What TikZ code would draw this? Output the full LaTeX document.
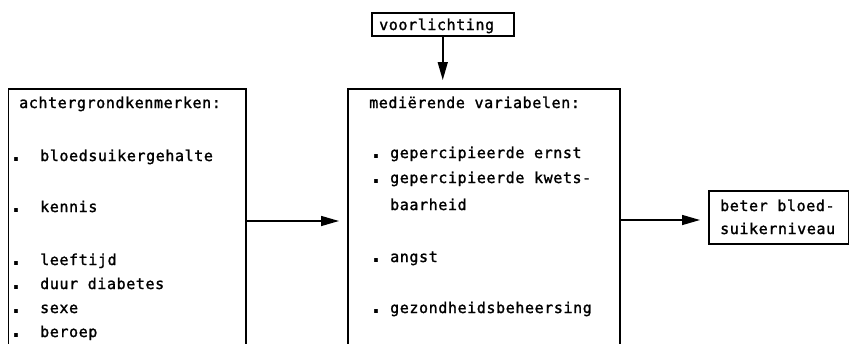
\documentclass[tikz,border=0pt]{standalone}
\usepackage{fontspec}
\newfontfamily\tw[LetterSpace=4,FakeBold=1.5]{DejaVu Sans Mono}
\newfontfamily\dotfont{DejaVu Sans}
\usetikzlibrary{arrows.meta}
\newcommand{\bdot}{\hspace{3pt}\makebox[9pt][c]{\dotfont\bfseries\fontsize{21}{21}\selectfont .}\hspace{-3pt}}
\newcommand{\bulA}{\bdot\hspace{22.5pt}}
\newcommand{\bulB}{\bdot\hspace{12.5pt}}
\tikzset{
  box/.style={draw, line width=1.5pt, inner sep=0pt, anchor=north west},
  txt/.style={inner sep=0pt, anchor=base west, font=\tw\fontsize{15}{18}\selectfont},
  arr/.style={line width=1.5pt, -{Triangle[length=18pt,width=10pt]}, shorten >=8pt}
}
\begin{document}
\begin{tikzpicture}[x=1pt,y=-1pt]
\useasboundingbox (0,0) rectangle (849,343);
\clip (0,0) rectangle (849,343);
% boxes
\node[box, minimum width=237.5pt, minimum height=300pt] (bg) at (7.5,88) {};
\node[box, minimum width=272pt, minimum height=300pt] (med) at (347,88) {};
\node[box, minimum width=140pt, minimum height=53pt] (out) at (708,190) {};
\node[box, minimum width=142pt, minimum height=23pt] (vl) at (371,12) {};
% texts
\node[txt] (vlt) at (379,30) {voorlichting};
\node[txt] (h1) at (19,108) {achtergrondkenmerken:};
\node[txt] (a1) at (8.5,161) {\bulA bloedsuikergehalte};
\node[txt] (a2) at (8.5,212) {\bulA kennis};
\node[txt] (a3) at (8.5,265) {\bulA leeftijd};
\node[txt] (a4) at (8.5,289) {\bulA duur diabetes};
\node[txt] (a5) at (8.5,313) {\bulA sexe};
\node[txt] (a6) at (8.5,337) {\bulA beroep};
\node[txt] (h2) at (369,108) {mediërende variabelen:};
\node[txt] (b1) at (368.5,158) {\bulB gepercipieerde ernst};
\node[txt] (b2) at (368.5,183) {\bulB gepercipieerde kwets-};
\node[txt] (b3) at (390,210) {baarheid};
\node[txt] (b4) at (368.5,262) {\bulB angst};
\node[txt] (b5) at (368.5,313) {\bulB gezondheidsbeheersing};
\node[txt] (c1) at (720,211) {beter bloed-};
\node[txt] (c2) at (720,234) {suikerniveau};
% connectors
\coordinate (lvl) at (0,221);
\coordinate (rvl) at (0,220);
\draw[arr] (bg.east |- lvl) -- (med.west |- lvl);
\draw[arr] (med.east |- rvl) -- (out.west |- rvl);
\draw[arr] (vl.south) -- (med.north -| vl.south);
\end{tikzpicture}
\end{document}
